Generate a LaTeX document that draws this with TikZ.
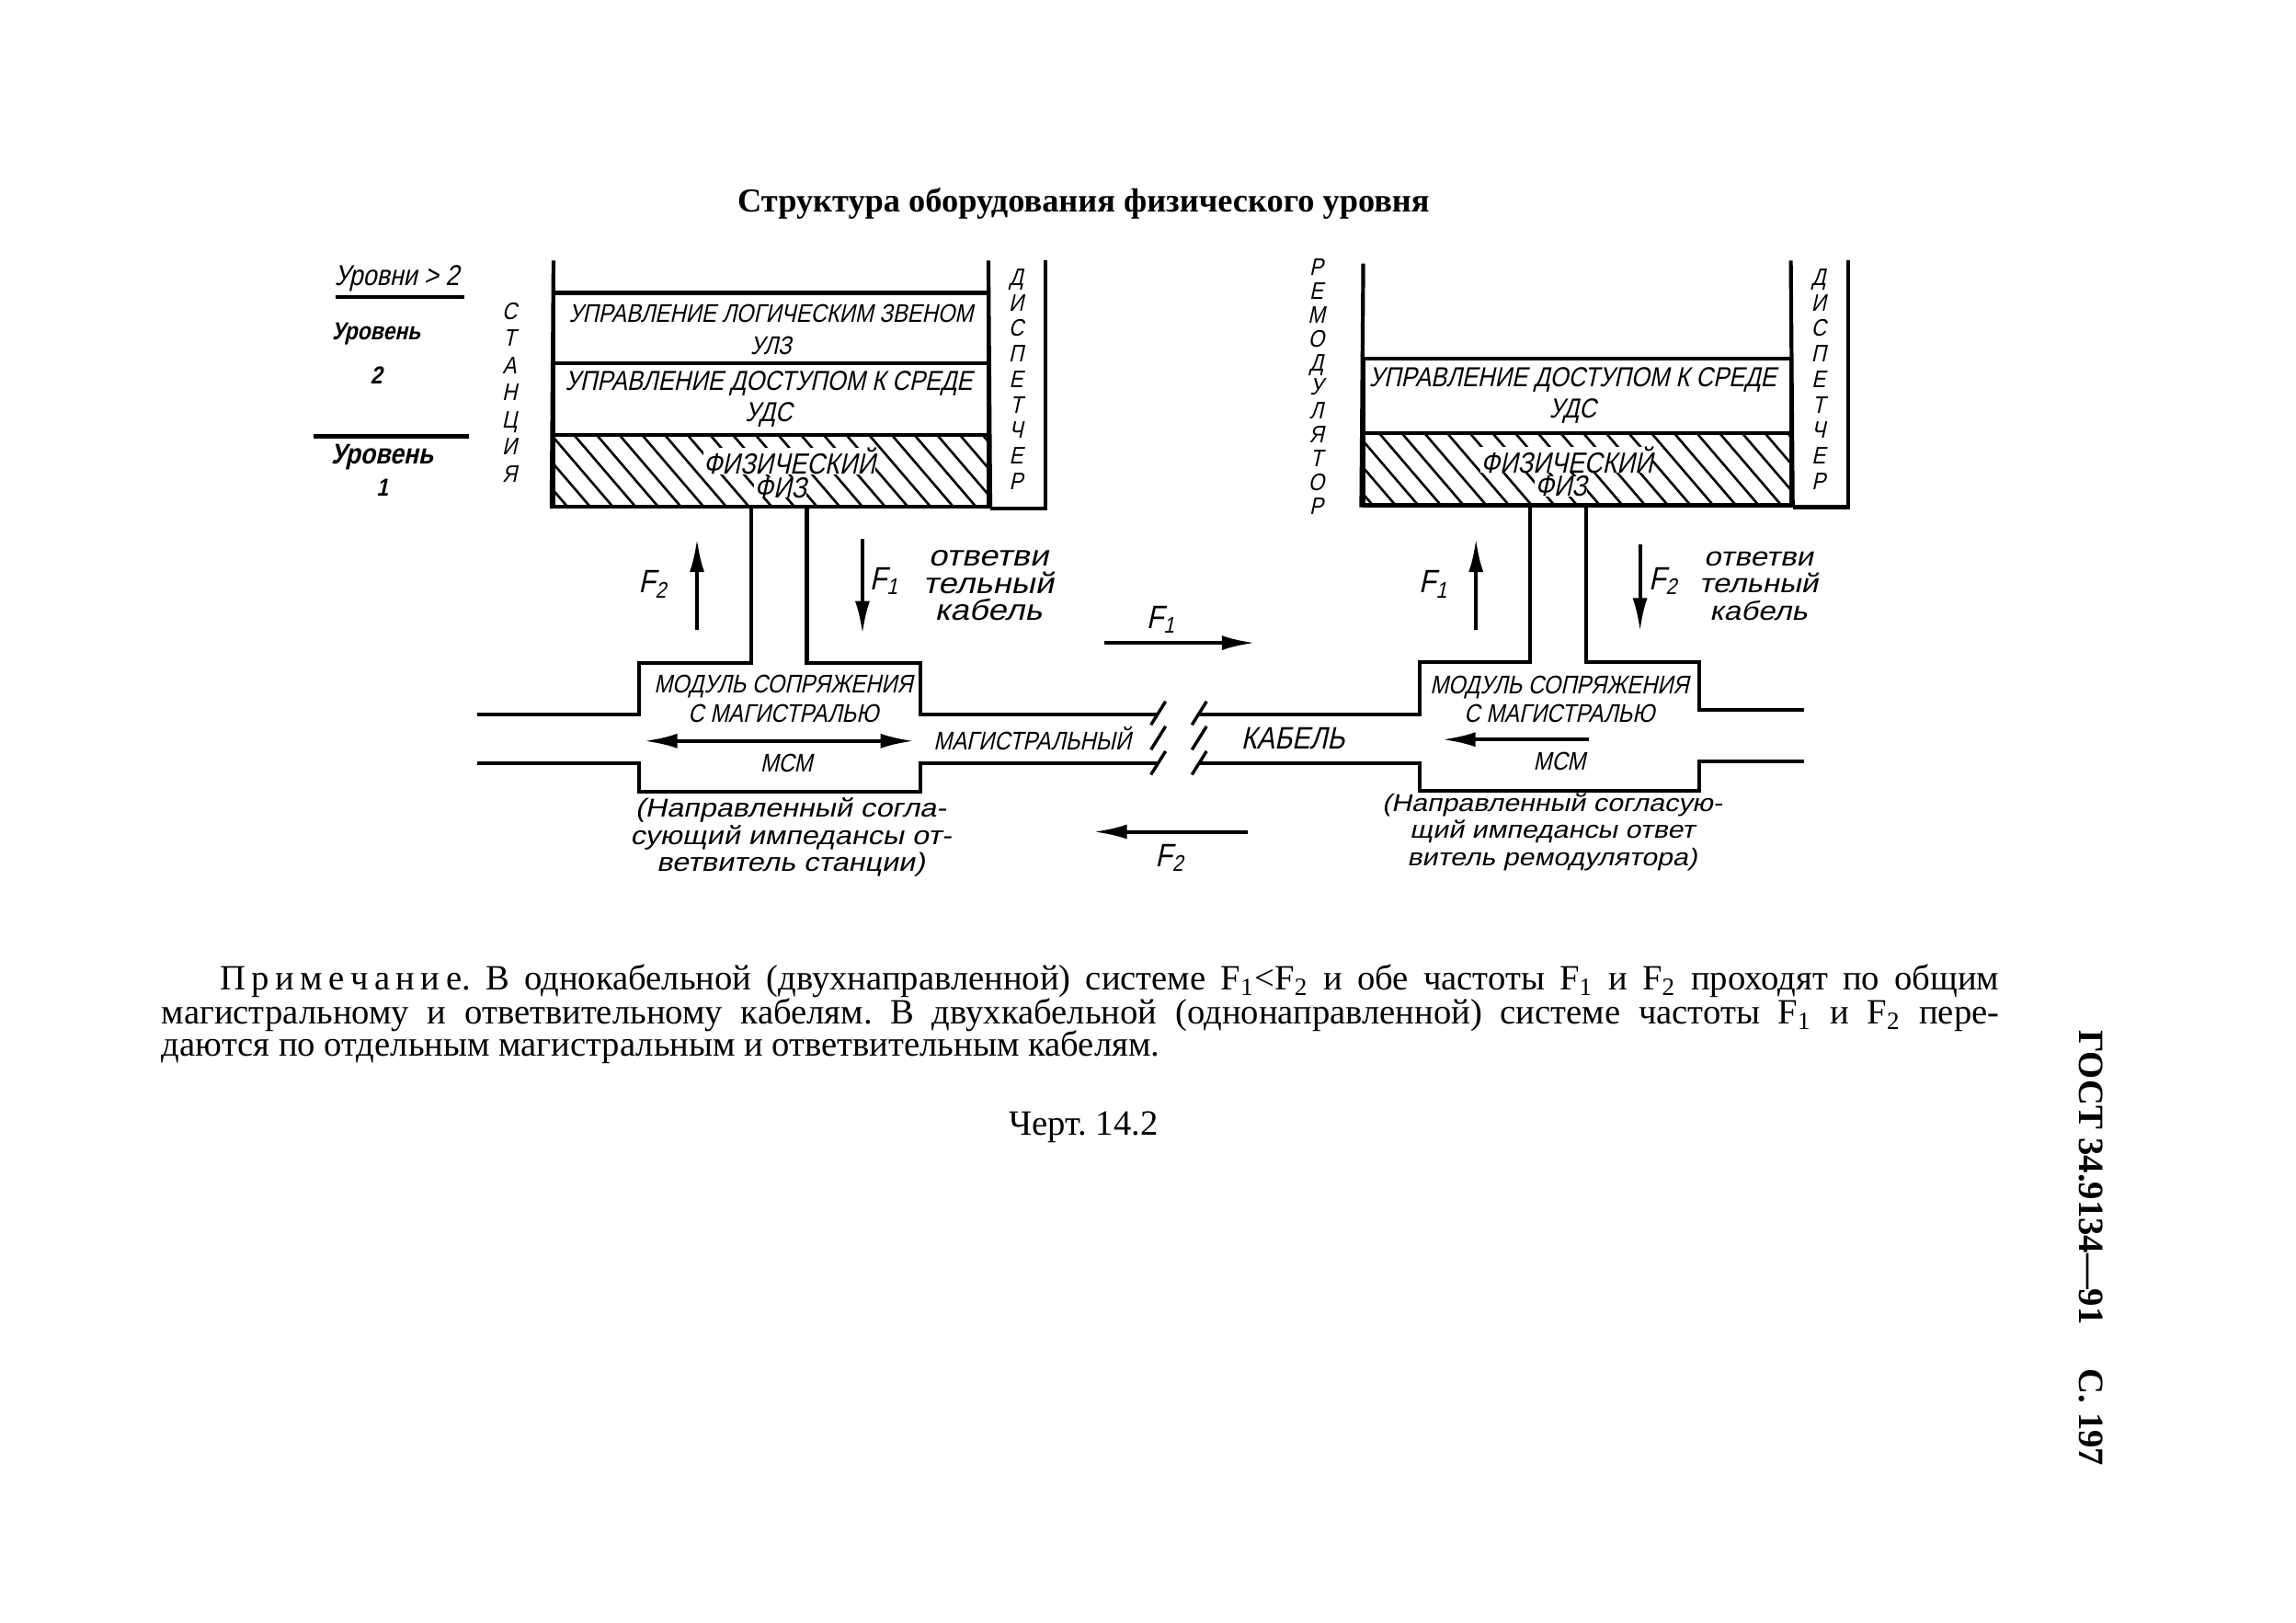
\documentclass[tikz,border=0pt]{standalone}
\usepackage{fontspec}
\setmainfont{Liberation Serif}
\newfontfamily\gostfont[FakeSlant=0.22,FakeStretch=0.86]{Liberation Sans}
\newfontfamily\gostwide[FakeSlant=0.22,FakeStretch=1.15]{Liberation Sans}
\usetikzlibrary{arrows.meta,positioning}
\def\pu{0.15925mm}
\tikzset{
  wall/.style={line width=0.42mm},
  hatchline/.style={line width=0.26mm},
  layerbox/.style={draw, line width=0.42mm, minimum width=297*\pu, inner sep=0pt},
  gost/.style={font=\gostfont\fontsize{7.9}{8.6}\selectfont, inner sep=0pt, align=center},
  gostmac/.style={font=\gostfont\fontsize{8.5}{8.6}\selectfont, inner sep=0pt, align=center},
  gostphy/.style={font=\gostfont\fontsize{9}{10}\selectfont, inner sep=0pt, fill=white},
  gostbold/.style={font=\gostfont\bfseries\fontsize{#1}{9}\selectfont, inner sep=0pt, align=center},
  gostfreq/.style={font=\gostfont\fontsize{10}{11}\selectfont, inner sep=0pt},
  gostnote/.style={font=\gostwide\fontsize{#1}{8.4}\selectfont, inner sep=0pt, align=center},
  letters/.style={font=\gostfont\fontsize{7.4}{#1}\selectfont, inner sep=0pt, align=center},
  flow/.style={line width=0.4mm, -{Latex[length=3.6mm,width=1.6mm]}},
  flowboth/.style={line width=0.4mm, {Latex[length=3.6mm,width=1.6mm]}-{Latex[length=3.6mm,width=1.6mm]}},
  modframe/.style={minimum width=#1*\pu, minimum height=87*\pu, inner sep=0pt},
  notetext/.style={font=\fontsize{11}{12}\selectfont, inner sep=0pt, anchor=west}
}
\begin{document}
\frenchspacing
\begin{tikzpicture}[x=\pu, y=-\pu]
  \useasboundingbox (0,0) rectangle (1568,1108);

  % Title
  \node[font=\bfseries\fontsize{10.35}{12}\selectfont, inner sep=0pt] (title) at (740,139) {Структура оборудования физического уровня};

  % Levels
  \node[gost, font=\gostfont\fontsize{8.9}{9}\selectfont] (lvlabove) at (271,190) {Уровни > 2};
  \coordinate (ulA) at (229,203);
  \coordinate (ulB) at (317,203);
  \draw[wall] (ulA) -- (ulB);
  \node[gostbold=7.6] (lvltwo) at (257,228) {Уровень};
  \node[gostbold=7.6] (lvltwonum) at (257,256) {2};
  \coordinate (ulC) at (214,298);
  \coordinate (ulD) at (320,298);
  \draw[wall] (ulC) -- (ulD);
  \node[gostbold=8.8] (lvlone) at (261,312) {Уровень};
  \node[gostbold=7.6] (lvlonenum) at (261,333) {1};

  % Station stack
  \node[layerbox, minimum height=48*\pu] (lllc) at (526.5,224) {};
  \node[layerbox, minimum height=49*\pu] (lmac) at (526.5,272.5) {};
  \node[layerbox, minimum height=49*\pu] (lphy) at (526.5,321.5) {};
  \begin{scope}
    \clip (lphy.south west) rectangle (lphy.north east);
    \foreach \x in {330,345.5,...,680} {
      \draw[hatchline] (\x,297) -- (\x+42,346);
    }
  \end{scope}
  \node[layerbox, minimum height=49*\pu] at (526.5,321.5) {};
  \node[gost] (lllctext) at (526.5,225) {УПРАВЛЕНИЕ ЛОГИЧЕСКИМ ЗВЕНОМ\\[1.3pt]УЛЗ};
  \node[gostmac] (lmactext) at (525,272.5) {УПРАВЛЕНИЕ ДОСТУПОМ К СРЕДЕ\\[1.3pt]УДС};
  \node[gostphy] (lphytext) at (539,315) {ФИЗИЧЕСКИЙ};
  \node[gostphy] (lphysub) at (533,333) {ФИЗ};
  \coordinate (lwalla) at (378,178);
  \coordinate (lwallb) at (675,178);
  \coordinate (lwallc) at (714,178);
  \draw[wall] (lwalla) -- (lphy.south west);
  \draw[wall] (lwallb) -- (lphy.south east);
  \draw[wall] (lphy.south east) -| (lwallc);
  \node[letters=8.4pt] (station) at (348,268) {С\\Т\\А\\Н\\Ц\\И\\Я};
  \node[letters=7.9pt] (ldisp) at (694,259) {Д\\И\\С\\П\\Е\\Т\\Ч\\Е\\Р};

  % Remodulator stack
  \node[layerbox, minimum height=51*\pu, minimum width=292*\pu] (rmac) at (1077,270.5) {};
  \node[layerbox, minimum height=49*\pu, minimum width=292*\pu] (rphy) at (1077,320.5) {};
  \begin{scope}
    \clip (rphy.south west) rectangle (rphy.north east);
    \foreach \x in {880,895.5,...,1225} {
      \draw[hatchline] (\x,296) -- (\x+42,345);
    }
  \end{scope}
  \node[layerbox, minimum height=49*\pu, minimum width=292*\pu] at (1077,320.5) {};
  \node[gostmac] (rmactext) at (1074,270) {УПРАВЛЕНИЕ ДОСТУПОМ К СРЕДЕ\\[1.3pt]УДС};
  \node[gostphy] (rphytext) at (1070,314) {ФИЗИЧЕСКИЙ};
  \node[gostphy] (rphysub) at (1066,332) {ФИЗ};
  \coordinate (rwalla) at (931,180);
  \coordinate (rwallb) at (1223,178);
  \coordinate (rwallc) at (1262,178);
  \draw[wall] (rwalla) -- (rphy.south west);
  \draw[wall] (rwallb) -- (rphy.south east);
  \draw[wall] (rphy.south east) -| (rwallc);
  \node[letters=7.4pt] (remod) at (899,264) {Р\\Е\\М\\О\\Д\\У\\Л\\Я\\Т\\О\\Р};
  \node[letters=7.9pt] (rdisp) at (1242,259) {Д\\И\\С\\П\\Е\\Т\\Ч\\Е\\Р};

  % Left coupler and drop cable
  \node[modframe=191] (lmod) at (532.5,496.5) {};
  \coordinate (lcaba) at (513,346);
  \coordinate (lcabb) at (551,346);
  \coordinate (lbusa) at (326,488);
  \coordinate (lbusb) at (326,521);
  \coordinate (mbusa) at (790,488);
  \coordinate (mbusb) at (790,521);
  \draw[wall] (lbusa) -- (lbusa -| lmod.west) -- (lmod.north west) -- (lmod.north west -| lcaba) -- (lcaba);
  \draw[wall] (lcabb) -- (lmod.north east -| lcabb) -- (lmod.north east) -- (lmod.north east |- mbusa) -- (mbusa);
  \draw[wall] (lbusb) -- (lbusb -| lmod.west) -- (lmod.south west) -- (lmod.south east) -- (lmod.south east |- mbusb) -- (mbusb);

  % Right coupler and drop cable
  \node[modframe=190] (rmod) at (1065,496) {};
  \coordinate (rcaba) at (1045,345);
  \coordinate (rcabb) at (1083,345);
  \coordinate (rbusa) at (1232,485);
  \coordinate (rbusb) at (1232,520);
  \coordinate (nbusa) at (818,488);
  \coordinate (nbusb) at (818,521);
  \draw[wall] (nbusa) -- (nbusa -| rmod.west) -- (rmod.north west) -- (rmod.north west -| rcaba) -- (rcaba);
  \draw[wall] (rcabb) -- (rmod.north east -| rcabb) -- (rmod.north east) -- (rmod.north east |- rbusa) -- (rbusa);
  \draw[wall] (nbusb) -- (nbusb -| rmod.west) -- (rmod.south west) -- (rmod.south east) -- (rmod.south east |- rbusb) -- (rbusb);

  % Break marks
  \foreach \x/\n in {786/a,814/b} {
    \foreach \y/\m in {479/u,496/v,513/w} {
      \coordinate (brk\n\m s) at (\x,\y+16);
      \coordinate (brk\n\m e) at (\x+10,\y);
      \draw[wall, line width=0.34mm] (brk\n\m s) -- (brk\n\m e);
    }
  }

  % Frequency arrows on the left
  \coordinate (lupa) at (476,430);
  \coordinate (lupb) at (476,368);
  \draw[flow] (lupa) -- (lupb);
  \node[gostfreq] (lupf) at (446,399) {F\textsubscript{2}};
  \coordinate (ldna) at (589,368);
  \coordinate (ldnb) at (589,433);
  \draw[flow] (ldna) -- (ldnb);
  \node[gostfreq] (ldnf) at (604,397) {F\textsubscript{1}};
  \node[gostnote=9] (ltap) at (675,400) {ответви\\тельный\\кабель};

  % Frequency arrows on the right
  \coordinate (rupa) at (1008,430);
  \coordinate (rupb) at (1008,368);
  \draw[flow] (rupa) -- (rupb);
  \node[gostfreq] (rupf) at (979,399) {F\textsubscript{1}};
  \coordinate (rdna) at (1120,372);
  \coordinate (rdnb) at (1120,431);
  \draw[flow] (rdna) -- (rdnb);
  \node[gostfreq] (rdnf) at (1136,397) {F\textsubscript{2}};
  \node[gostnote=8.2] (rtap) at (1201,400) {ответви\\тельный\\кабель};

  % Frequency arrows in the middle
  \coordinate (mfa) at (754,439);
  \coordinate (mfb) at (857,439);
  \draw[flow] (mfa) -- (mfb);
  \node[gostfreq] (mfone) at (793,423) {F\textsubscript{1}};
  \coordinate (mra) at (852,568);
  \coordinate (mrb) at (747,568);
  \draw[flow] (mra) -- (mrb);
  \node[gostfreq] (mftwo) at (799,586) {F\textsubscript{2}};

  % Coupler texts
  \node[gost] (lmodname) at (535,477) {МОДУЛЬ СОПРЯЖЕНИЯ\\[0.4pt]С МАГИСТРАЛЬЮ};
  \coordinate (lbotha) at (440,506);
  \coordinate (lbothb) at (624,506);
  \draw[flowboth] (lbotha) -- (lbothb);
  \node[gost] (lmsm) at (537,521) {МСМ};
  \node[gostnote=8] (lnote) at (540,572) {(Направленный согла-\\сующий импедансы от-\\ветвитель станции)};
  \node[gost] (rmodname) at (1065,477.5) {МОДУЛЬ СОПРЯЖЕНИЯ\\[0.4pt]С МАГИСТРАЛЬЮ};
  \coordinate (rleftb) at (1085,505);
  \coordinate (rlefta) at (985,505);
  \draw[flow] (rleftb) -- (rlefta);
  \node[gost] (rmsm) at (1065,520) {МСМ};
  \node[gostnote=7.5] (rnote) at (1060,568) {(Направленный согласую-\\щий импедансы ответ\\витель ремодулятора)};

  % Trunk cable
  \node[gost] (trunk) at (705,504) {МАГИСТРАЛЬНЫЙ};
  \node[gost, font=\gostfont\fontsize{9.6}{10}\selectfont] (trunkcab) at (883,504) {КАБЕЛЬ};

  % Note
  \node[notetext] (noteone) at (150,670) {\makebox[193.49mm][s]{П\,р\,и\,м\,е\,ч\,а\,н\,и\,е. В однокабельной (двухнаправленной) системе F\textsubscript{1}<F\textsubscript{2} и обе частоты F\textsubscript{1} и F\textsubscript{2} проходят по общим}};
  \node[notetext] (notetwo) at (110,693) {\makebox[199.86mm][s]{магистральному и ответвительному кабелям. В двухкабельной (однонаправленной) системе частоты F\textsubscript{1} и F\textsubscript{2} пере-}};
  \node[notetext] (notethree) at (110,715) {даются по отдельным магистральным и ответвительным кабелям.};
  \node[font=\fontsize{11}{12}\selectfont, inner sep=0pt] (caption) at (740,770) {Черт. 14.2};

  % Margin
  \node[font=\bfseries\fontsize{11}{12}\selectfont, inner sep=0pt, rotate=-90] (gostmark) at (1428,804) {ГОСТ 34.9134—91};
  \node[font=\bfseries\fontsize{11}{12}\selectfont, inner sep=0pt, rotate=-90] (pagemark) at (1428,968) {С. 197};
\end{tikzpicture}
\end{document}
